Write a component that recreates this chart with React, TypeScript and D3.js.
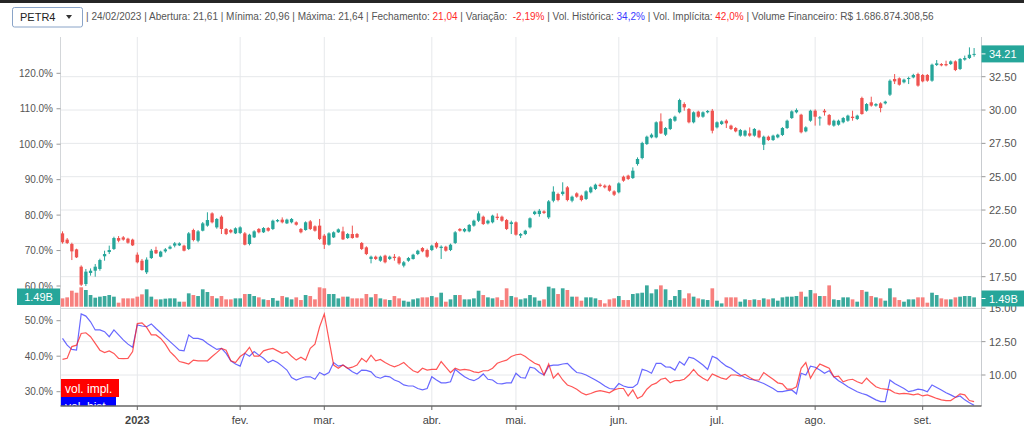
import React from 'react';
import * as d3 from 'd3';

// [open, high, low, close] — one candle per trading day (Dec 2022 → 19 Sep 2023)
const CANDLES: [number, number, number, number][] = [
  [20.75, 20.9, 19.98, 20.08], [20.28, 20.4, 19.95, 20.03], [19.95, 20.05, 18.75, 19.4], [19.55, 19.6, 18.9, 18.95],
  [18.25, 18.35, 16.8, 16.9], [16.95, 18.08, 16.8, 17.88], [17.78, 18.12, 17.58, 17.95], [17.95, 18.45, 17.5, 18.25],
  [18.08, 18.85, 17.95, 18.75], [19.03, 19.45, 18.7, 19.2], [19.35, 19.83, 19.2, 19.5], [19.58, 20.5, 19.5, 20.4],
  [20.4, 20.55, 20.08, 20.2], [20.45, 20.55, 20.2, 20.28], [20.35, 20.42, 19.98, 20.05], [20.28, 20.35, 19.8, 19.85],
  // jan
  [19.15, 19.32, 18.5, 18.58], [18.7, 18.83, 17.95, 18.0], [17.83, 18.95, 17.7, 18.78], [18.9, 19.58, 18.83, 19.45],
  [19.5, 19.75, 19.2, 19.25], [19.0, 19.45, 18.95, 19.38], [19.4, 19.65, 19.3, 19.55], [19.6, 19.85, 19.55, 19.75],
  [19.83, 20.1, 19.7, 20.0], [19.85, 20.08, 19.8, 20.0], [19.83, 19.9, 19.4, 19.45], [19.58, 20.85, 19.5, 20.75],
  [21.0, 21.1, 20.15, 20.25], [20.2, 21.0, 20.08, 20.9], [20.95, 21.6, 20.9, 21.5], [21.33, 22.33, 21.25, 21.75],
  [22.25, 22.33, 21.5, 21.58], [21.2, 21.9, 21.1, 21.83], [22.0, 22.1, 20.7, 21.08], [21.08, 21.15, 20.62, 20.7],
  [21.0, 21.08, 20.75, 20.83], [20.75, 21.2, 20.7, 21.13],
  // fev
  [20.78, 21.28, 20.7, 21.2], [20.75, 20.85, 19.85, 19.9], [19.95, 20.72, 19.85, 20.65], [20.45, 20.98, 20.4, 20.9],
  [21.08, 21.15, 20.75, 20.83], [20.83, 21.22, 20.78, 21.15], [21.15, 21.22, 20.88, 20.95], [21.08, 21.78, 21.0, 21.7],
  [21.65, 21.82, 21.58, 21.75], [21.78, 21.95, 21.5, 21.58], [21.5, 21.85, 21.45, 21.78], [21.58, 21.9, 21.5, 21.83],
  [21.58, 21.65, 21.33, 21.4], [21.08, 21.15, 20.75, 20.83], [21.0, 21.65, 20.95, 21.58], [21.65, 21.75, 21.0, 21.08],
  [21.28, 21.35, 20.88, 20.95], [21.33, 21.83, 20.25, 20.33],
  // mar
  [20.58, 20.7, 19.58, 19.9], [19.9, 20.83, 19.83, 20.75], [20.45, 20.9, 20.4, 20.83], [20.83, 21.12, 20.78, 21.05],
  [20.9, 21.25, 20.25, 20.3], [20.4, 20.78, 20.33, 20.7], [20.7, 21.33, 20.35, 20.4], [20.7, 20.78, 20.4, 20.45],
  [20.03, 20.1, 19.5, 19.58], [19.7, 19.78, 19.12, 19.2], [18.83, 19.08, 18.5, 19.0], [19.0, 19.08, 18.75, 18.83],
  [18.7, 19.08, 18.62, 19.0], [19.08, 19.15, 18.5, 18.58], [18.83, 19.08, 18.75, 19.0], [19.0, 19.2, 18.7, 18.9],
  [18.95, 19.05, 18.4, 18.5], [18.33, 18.68, 18.2, 18.58], [18.7, 18.98, 18.62, 18.9], [18.83, 19.22, 18.78, 19.15],
  [19.2, 19.52, 19.12, 19.45], [19.65, 19.72, 19.33, 19.4], [19.5, 19.6, 18.92, 19.0],
  // abr
  [19.5, 19.9, 19.42, 19.83], [20.03, 20.12, 19.6, 19.7], [19.65, 19.85, 18.83, 19.75], [19.75, 19.82, 19.38, 19.45],
  [19.5, 19.98, 19.42, 19.9], [20.03, 20.92, 19.95, 20.83], [21.08, 21.15, 20.88, 20.95], [20.9, 21.15, 20.83, 21.08],
  [20.9, 21.45, 20.83, 21.38], [21.33, 21.78, 21.25, 21.7], [21.7, 22.4, 21.6, 22.25], [22.0, 22.08, 21.38, 21.45],
  [21.5, 21.78, 21.42, 21.7], [21.58, 22.15, 21.5, 22.08], [22.0, 22.25, 21.75, 21.9], [22.0, 22.08, 21.62, 21.7],
  [21.75, 21.83, 21.0, 21.08], [21.45, 21.7, 20.7, 21.58],
  // mai
  [21.58, 21.65, 20.58, 20.65], [20.58, 20.78, 20.4, 20.7], [20.7, 21.02, 20.62, 20.95], [21.2, 21.95, 21.12, 21.88],
  [22.2, 22.45, 22.12, 22.38], [22.2, 22.58, 22.0, 22.45], [22.4, 22.48, 22.2, 22.28], [21.95, 23.25, 21.83, 23.15],
  [23.2, 24.28, 23.08, 23.88], [23.7, 23.8, 23.15, 23.25], [23.7, 24.58, 23.58, 23.88], [24.2, 24.3, 23.15, 23.25],
  [23.2, 23.58, 23.08, 23.5], [23.75, 23.83, 23.42, 23.5], [23.58, 23.65, 23.15, 23.25], [23.33, 23.98, 23.25, 23.9],
  [23.83, 24.28, 23.75, 24.2], [24.08, 24.48, 24.0, 24.4], [24.4, 24.5, 24.22, 24.3], [24.33, 24.42, 24.12, 24.2],
  [24.33, 24.4, 23.88, 23.95], [23.9, 23.98, 23.55, 23.65],
  // jun
  [23.83, 24.58, 23.75, 24.5], [25.0, 25.08, 24.62, 24.7], [25.08, 25.15, 24.75, 24.83], [24.9, 25.7, 24.83, 25.45],
  [25.95, 26.45, 25.83, 26.33], [26.4, 27.62, 26.3, 27.53], [27.45, 28.08, 27.38, 28.0], [27.95, 28.25, 27.88, 28.15],
  [27.95, 29.15, 27.88, 29.08], [29.15, 29.75, 28.2, 28.25], [28.15, 28.72, 28.05, 28.65], [28.58, 29.4, 28.5, 29.33],
  [29.2, 29.58, 29.12, 29.5], [29.83, 30.85, 29.75, 30.75], [30.45, 30.58, 29.95, 30.2], [30.08, 30.15, 29.0, 29.08],
  [29.08, 29.9, 29.0, 29.83], [29.88, 29.95, 29.42, 29.5], [29.5, 29.9, 29.42, 29.83], [29.83, 30.0, 29.75, 29.93],
  [29.95, 30.08, 28.25, 28.45],
  // jul
  [28.7, 29.15, 28.62, 29.08], [28.95, 29.22, 28.88, 29.15], [29.2, 29.3, 28.65, 29.0], [28.83, 28.9, 28.5, 28.58],
  [28.65, 28.72, 28.33, 28.4], [28.08, 28.58, 28.0, 28.5], [28.08, 28.52, 28.0, 28.45], [28.25, 28.7, 28.0, 28.08],
  [28.08, 28.65, 28.0, 28.58], [28.45, 28.52, 27.88, 27.95], [27.4, 28.08, 27.0, 28.0], [28.0, 28.08, 27.68, 27.75],
  [27.75, 28.15, 27.68, 28.08], [27.95, 28.22, 27.88, 28.15], [28.13, 28.72, 28.05, 28.65], [28.65, 29.28, 28.58, 29.2],
  [29.4, 29.98, 29.33, 29.9], [29.83, 30.12, 29.75, 30.0], [29.65, 29.72, 28.25, 28.33], [28.4, 28.78, 28.33, 28.7],
  [29.2, 30.02, 29.12, 29.95],
  // ago
  [29.95, 30.05, 28.83, 29.5], [29.4, 29.55, 28.83, 29.45], [29.95, 30.08, 29.58, 29.83], [29.63, 29.7, 28.83, 28.9],
  [28.83, 29.28, 28.75, 29.2], [28.9, 29.28, 28.83, 29.2], [29.08, 29.48, 29.0, 29.4], [29.2, 29.65, 29.12, 29.58],
  [29.5, 29.95, 29.2, 29.4], [29.33, 29.65, 29.25, 29.58], [30.9, 31.0, 29.65, 29.7], [29.95, 30.52, 29.88, 30.45],
  [30.58, 31.0, 30.25, 30.33], [30.33, 30.52, 30.25, 30.45], [30.5, 30.58, 29.83, 30.15], [30.5, 30.7, 30.42, 30.63],
  [31.15, 32.3, 31.05, 32.2], [32.33, 32.7, 31.95, 32.15], [32.38, 32.45, 31.83, 31.9], [32.08, 32.35, 32.0, 32.28],
  [32.33, 32.5, 31.95, 32.4], [32.45, 32.72, 32.38, 32.63], [32.7, 32.8, 31.75, 31.83],
  // set
  [32.63, 32.7, 32.08, 32.15], [32.63, 32.7, 32.12, 32.2], [32.2, 33.48, 32.12, 33.4], [33.38, 33.75, 33.3, 33.5],
  [33.45, 33.52, 33.28, 33.35], [33.45, 33.7, 33.28, 33.35], [33.45, 33.72, 33.38, 33.65], [33.65, 33.72, 32.92, 33.0],
  [33.08, 33.9, 33.0, 33.83], [33.78, 34.08, 33.7, 33.9], [33.9, 34.7, 33.83, 34.15], [34.15, 34.65, 34.0, 34.21],
];

// financial volume, billions of R$
const VOLUME_B = [
  1.33, 1.49, 2.55, 2.23, 3.09, 2.66, 1.86, 1.44, 1.6, 1.7, 1.86, 1.6, 0.64, 1.33, 1.33, 1.33,
  1.6, 1.97, 2.77, 1.6, 1.17, 1.17, 1.28, 1.33, 1.33, 0.8, 0.8, 2.13, 1.86, 1.7, 2.77, 2.34, 1.7, 1.33, 1.7, 1.17, 1.17, 1.33,
  1.33, 2.02, 2.02, 1.7, 1.49, 1.17, 1.06, 1.38, 0.96, 1.7, 1.49, 1.17, 1.49, 1.06, 1.86, 1.7, 1.17, 3.09,
  2.93, 2.02, 2.02, 1.33, 1.6, 1.6, 1.33, 1.33, 1.33, 2.02, 1.49, 2.02, 1.33, 1.17, 1.06, 1.7, 1.33, 0.96, 0.8, 1.17, 1.33, 1.49, 1.49,
  1.7, 1.49, 2.23, 0.8, 1.17, 1.86, 1.86, 1.17, 1.17, 1.33, 2.55, 1.86, 1.49, 1.33, 1.49, 1.06, 2.93, 1.7,
  1.49, 1.17, 1.33, 1.86, 1.49, 0.96, 1.17, 3.19, 2.93, 2.02, 2.93, 2.66, 1.6, 1.6, 0.96, 1.49, 1.49, 1.33, 1.06, 0.53, 1.17, 1.33,
  1.7, 1.06, 1.06, 2.02, 2.13, 2.23, 3.4, 2.13, 2.77, 3.4, 2.77, 1.06, 1.7, 2.66, 1.33, 2.13, 1.6, 1.33, 1.17, 1.06, 2.93,
  0.96, 0.53, 1.49, 1.49, 1.49, 0.8, 1.17, 1.06, 1.17, 1.06, 1.33, 1.17, 1.33, 0.96, 1.49, 1.6, 1.6, 1.7, 2.39, 1.6, 2.66,
  2.13, 1.7, 1.7, 3.4, 1.17, 1.06, 1.49, 1.49, 1.17, 0.8, 2.66, 2.39, 1.7, 1.49, 1.33, 0.96, 2.93, 1.49, 1.06, 0.8, 1.17, 1.17, 1.49,
  1.49, 0.64, 2.23, 1.86, 1.33, 1.17, 1.17, 1.49, 1.6, 1.7, 1.7, 1.49,
];

// implied volatility (%), red line
const VOL_IMPL = [
  39.1, 39.4, 42.7, 43.1, 46.4, 46.6, 45.5, 43.6, 41.7, 41.0, 41.5, 40.8, 39.4, 39.3, 39.4, 41.3,
  49.2, 49.4, 48.1, 46.0, 46.0, 45.0, 43.4, 41.3, 40.0, 38.5, 38.2, 37.8, 38.9, 38.7, 38.7, 38.7, 39.9, 41.0, 42.2, 41.7, 38.7, 38.2,
  39.9, 40.8, 42.5, 40.0, 40.0, 41.5, 41.9, 42.2, 41.5, 40.8, 41.3, 40.0, 38.9, 39.7, 38.9, 42.2, 43.4, 48.3,
  51.9, 44.6, 37.5, 36.6, 37.5, 36.6, 36.9, 37.5, 39.4, 38.4, 40.3, 38.7, 39.1, 38.2, 37.5, 37.0, 37.5, 38.2, 37.0, 35.9, 35.4, 36.6, 36.1,
  36.3, 36.3, 38.5, 36.9, 35.4, 36.6, 36.1, 36.3, 36.1, 35.6, 35.4, 35.9, 35.9, 36.6, 38.0, 38.5, 38.9, 39.9,
  40.4, 40.6, 39.9, 38.9, 38.0, 37.5, 34.7, 37.8, 33.8, 35.2, 33.3, 31.9, 31.4, 30.7, 29.7, 29.1, 29.5, 30.0, 30.3, 30.0, 29.7, 30.5,
  30.9, 30.9, 28.8, 30.5, 28.1, 28.8, 30.7, 31.9, 32.4, 33.5, 33.8, 32.5, 33.1, 33.1, 33.5, 34.7, 36.3, 34.7, 33.8, 33.1, 35.0,
  34.4, 33.8, 33.5, 34.7, 34.7, 34.4, 34.9, 34.0, 33.3, 33.3, 35.4, 34.4, 33.5, 32.5, 32.2, 30.7, 30.7, 31.4, 36.6, 38.2, 33.8,
  36.1, 37.8, 37.2, 36.6, 34.2, 34.4, 32.8, 33.3, 33.5, 32.8, 32.3, 33.8, 32.5, 31.4, 30.9, 30.7, 30.5, 29.7, 29.4, 29.5, 29.4, 29.1, 29.4,
  28.8, 29.1, 28.6, 28.1, 27.7, 27.5, 27.5, 28.4, 29.4, 29.1, 27.5, 27.2,
];

// historical volatility (%), blue line
const VOL_HIST = [
  45.0, 43.1, 41.9, 41.7, 51.9, 51.3, 49.7, 47.4, 47.4, 46.9, 45.5, 47.4, 46.0, 44.6, 43.4, 42.5,
  48.8, 48.5, 48.3, 49.1, 47.8, 46.6, 45.3, 44.1, 42.9, 41.7, 41.5, 46.0, 45.0, 45.0, 44.6, 43.6, 42.7, 41.9, 42.2, 40.8, 38.7, 37.8,
  37.2, 40.8, 40.0, 41.3, 40.3, 39.4, 38.2, 38.9, 38.2, 37.2, 36.1, 34.0, 33.3, 33.8, 34.2, 34.2, 33.5, 35.4,
  34.7, 35.4, 38.2, 37.2, 37.5, 36.6, 35.6, 35.0, 36.1, 36.0, 35.6, 34.2, 33.8, 34.4, 34.2, 33.3, 32.8, 31.9, 31.6, 31.6, 30.9, 30.5, 30.9,
  34.2, 33.3, 32.5, 32.5, 32.8, 36.3, 35.2, 34.2, 33.5, 33.1, 33.8, 35.0, 33.5, 33.3, 32.3, 32.2, 32.5, 32.5,
  35.2, 34.0, 33.8, 36.9, 36.6, 35.4, 34.7, 37.2, 37.5, 37.5, 37.8, 38.0, 36.6, 35.4, 35.2, 34.7, 34.0, 33.3, 32.5, 31.6, 30.9, 30.7,
  32.3, 31.6, 31.2, 31.2, 32.2, 36.3, 35.9, 35.2, 38.0, 38.0, 37.0, 36.9, 36.1, 38.5, 37.5, 39.7, 39.4, 38.5, 37.5, 36.3, 40.0,
  39.4, 38.2, 37.2, 36.6, 35.6, 34.7, 34.0, 33.5, 33.3, 32.8, 32.3, 31.6, 30.9, 30.0, 30.0, 30.3, 30.5, 29.4, 35.2, 34.7, 37.2,
  36.9, 36.1, 35.2, 35.9, 34.2, 33.1, 32.3, 31.4, 30.7, 30.0, 29.5, 29.1, 28.4, 27.7, 27.2, 27.2, 33.3, 32.3, 31.6, 30.9, 30.0, 30.3, 30.7,
  30.5, 30.0, 31.9, 31.2, 30.5, 29.7, 29.1, 28.4, 28.8, 27.7, 26.9, 26.2,
];

const MONTH_INDEX = [16, 38, 56, 79, 97, 119, 140, 161, 184];
const MONTH_LABELS = ['2023', 'fev.', 'mar.', 'abr.', 'mai.', 'jun.', 'jul.', 'ago.', 'set.'];
const PRICE_TICKS = [17.5, 20, 22.5, 25, 27.5, 30, 32.5];
const MAIN_PCT_TICKS = [60, 70, 80, 90, 100, 110, 120];
const LOWER_PCT_TICKS = [30, 40, 50];
const LOWER_RIGHT_TICKS = [10, 12.5, 15];
const LAST_PRICE = 34.21;
const LAST_VOLUME_TEXT = '1.49B';
const HEADER_PARTS: { text: string; color: string }[] = [
  { text: '| 24/02/2023 | Abertura: 21,61 | Mínima: 20,96 | Máxima: 21,64 | Fechamento: ', color: '#555' },
  { text: '21,04', color: '#ff2b2b' },
  { text: ' | Variação:  ', color: '#555' },
  { text: '-2,19%', color: '#ff2b2b' },
  { text: ' | Vol. Histórica: ', color: '#555' },
  { text: '34,2%', color: '#3a3aff' },
  { text: ' | Vol. Implícita: ', color: '#555' },
  { text: '42,0%', color: '#ff2b2b' },
  { text: ' | Volume Financeiro: R$ 1.686.874.308,56', color: '#555' },
];

const UP = '#26a69a';
const DOWN = '#ef5350';
const VOL_UP = '#3aa99c';
const VOL_DOWN = '#f7807e';
const GRID = '#e6e8eb';
const AXIS_TEXT = '#555';
const FONT = '"Liberation Sans", Arial, sans-serif';

export default function App() {
  const L = 60.5, R = 981.5;
  const x = d3.scaleLinear().domain([0, 195]).range([62.5, 974.1]);
  const yP = d3.scaleLinear().domain([17.5, 32.5]).range([276.7, 76.7]);
  const yPct = d3.scaleLinear().domain([60, 120]).range([286, 73.3]);
  const yVol = d3.scaleLinear().domain([0, 4]).range([306.7, 281.6]);
  const yLow = d3.scaleLinear().domain([30, 50]).range([391.7, 320.7]);
  const yLowR = d3.scaleLinear().domain([10, 15]).range([375, 308.3]);

  const line = d3.line<number>().x((_, i) => x(i)).y((d) => yLow(d));
  const bw = 3.3;
  const vw = 3.7;

  return (
    <svg width={1024} height={431} style={{ position: 'absolute', left: 0, top: 0, background: '#fff' }} fontFamily={FONT}>
      <defs>
        <clipPath id="mainClip"><rect x={L} y={36} width={R - L} height={271} /></clipPath>
        <clipPath id="lowClip"><rect x={L} y={309} width={R - L} height={97} /></clipPath>
      </defs>
      <rect x={0} y={0} width={1024} height={431} fill="#fff" />
      <rect x={0} y={0} width={1024} height={3} fill="#262626" />

      {/* header */}
      <rect x={12.5} y={7.5} width={70} height={19.5} rx={2} fill="#fff" stroke="#8aa4c8" />
      <text x={20} y={21} fontSize={11} fill="#222">PETR4</text>
      <path d="M66,15 L72,15 L69,19 Z" fill="#333" />
      <text x={86} y={20} fontSize={10} style={{ whiteSpace: 'pre' }}>
        {HEADER_PARTS.map((p, i) => (
          <tspan key={i} fill={p.color}>{p.text}</tspan>
        ))}
      </text>

      {/* grid */}
      {MONTH_INDEX.map((m, i) => (
        <line key={'vg' + i} x1={x(m)} x2={x(m)} y1={37} y2={406} stroke={GRID} strokeWidth={1} />
      ))}
      {PRICE_TICKS.map((t, i) => (
        <line key={'hg' + i} x1={L} x2={R} y1={yP(t)} y2={yP(t)} stroke={GRID} strokeWidth={1} />
      ))}
      {[10, 12.5].map((t, i) => (
        <line key={'lg' + i} x1={L} x2={R} y1={yLowR(t)} y2={yLowR(t)} stroke={GRID} strokeWidth={1} />
      ))}
      <line x1={L} x2={R} y1={308.5} y2={308.5} stroke="#d9dbde" />
      <line x1={L} x2={L} y1={37} y2={406} stroke="#d3d6d9" />
      <line x1={R} x2={R} y1={37} y2={406} stroke="#c9ccd0" />

      {/* volume */}
      <g clipPath="url(#mainClip)">
        {VOLUME_B.map((v, i) => {
          const [o, , , c] = CANDLES[i];
          return (
            <rect key={'v' + i} x={x(i) - vw / 2} y={yVol(v)} width={vw} height={yVol(0) - yVol(v)}
              fill={c >= o ? VOL_UP : VOL_DOWN} />
          );
        })}
        {CANDLES.map(([o, h, l, c], i) => {
          const col = c >= o ? UP : DOWN;
          const top = yP(Math.max(o, c));
          const bot = yP(Math.min(o, c));
          return (
            <g key={'c' + i}>
              <line x1={x(i)} x2={x(i)} y1={yP(h)} y2={yP(l)} stroke={col} strokeWidth={1} />
              <rect x={x(i) - bw / 2} y={top} width={bw} height={Math.max(1, bot - top)} fill={col} />
            </g>
          );
        })}
      </g>

      {/* lower pane */}
      <g clipPath="url(#lowClip)">
        <path d={line(VOL_HIST) || ''} fill="none" stroke="rgba(40,40,255,0.7)" strokeWidth={1.2} />
        <path d={line(VOL_IMPL) || ''} fill="none" stroke="rgba(255,30,30,0.75)" strokeWidth={1.2} />
        <rect x={61} y={379} width={58} height={18} fill="#ff0000" />
        <text x={65} y={393} fontSize={12} fill="#fff">vol. impl.</text>
        <rect x={61} y={397} width={55} height={18} fill="#0000ff" />
        <text x={65} y={411} fontSize={12} fill="#fff">vol. hist.</text>
      </g>

      {/* bottom axis */}
      <line x1={L} x2={R} y1={406} y2={406} stroke="#666" strokeWidth={1.5} />
      {MONTH_INDEX.map((m, i) => (
        <g key={'xt' + i}>
          <line x1={x(m)} x2={x(m)} y1={406} y2={410} stroke="#666" />
          <text x={x(m)} y={424} fontSize={11} textAnchor="middle" fill="#444"
            fontWeight={i === 0 ? 'bold' : 'normal'}>{MONTH_LABELS[i]}</text>
        </g>
      ))}

      {/* left axes */}
      {MAIN_PCT_TICKS.map((t, i) => (
        <g key={'lp' + i}>
          <line x1={56.5} x2={L} y1={yPct(t)} y2={yPct(t)} stroke="#999" />
          <text x={53} y={yPct(t) + 3.5} fontSize={10} textAnchor="end" fill={AXIS_TEXT}>{t.toFixed(1)}%</text>
        </g>
      ))}
      {LOWER_PCT_TICKS.map((t, i) => (
        <g key={'ll' + i}>
          <line x1={56.5} x2={L} y1={yLow(t)} y2={yLow(t)} stroke="#999" />
          <text x={53} y={yLow(t) + 3.5} fontSize={10} textAnchor="end" fill={AXIS_TEXT}>{t.toFixed(1)}%</text>
        </g>
      ))}

      {/* right axes */}
      {PRICE_TICKS.map((t, i) => (
        <g key={'rp' + i}>
          <line x1={R} x2={R + 4} y1={yP(t)} y2={yP(t)} stroke="#999" />
          <text x={989} y={yP(t) + 4} fontSize={11} fill={AXIS_TEXT}>{t.toFixed(2)}</text>
        </g>
      ))}
      {LOWER_RIGHT_TICKS.map((t, i) => (
        <g key={'rl' + i}>
          <line x1={R} x2={R + 4} y1={yLowR(t)} y2={yLowR(t)} stroke="#999" />
          <text x={989} y={yLowR(t) + 4} fontSize={11} fill={AXIS_TEXT}>{t.toFixed(2)}</text>
        </g>
      ))}

      {/* value labels */}
      <rect x={R} y={yP(LAST_PRICE) - 8.5} width={1024 - R} height={17} fill={UP} />
      <line x1={R} x2={R + 4} y1={yP(LAST_PRICE)} y2={yP(LAST_PRICE)} stroke="#fff" />
      <text x={989} y={yP(LAST_PRICE) + 4} fontSize={11} fill="#fff">{LAST_PRICE.toFixed(2)}</text>

      <rect x={R} y={290.5} width={1024 - R} height={16} fill={UP} />
      <line x1={R} x2={R + 4} y1={298.5} y2={298.5} stroke="#fff" />
      <text x={989} y={302.5} fontSize={11} fill="#fff">{LAST_VOLUME_TEXT}</text>

      <rect x={17} y={288.5} width={43} height={16.5} fill={UP} />
      <text x={38.5} y={301} fontSize={11} fill="#fff" textAnchor="middle">{LAST_VOLUME_TEXT}</text>
    </svg>
  );
}
